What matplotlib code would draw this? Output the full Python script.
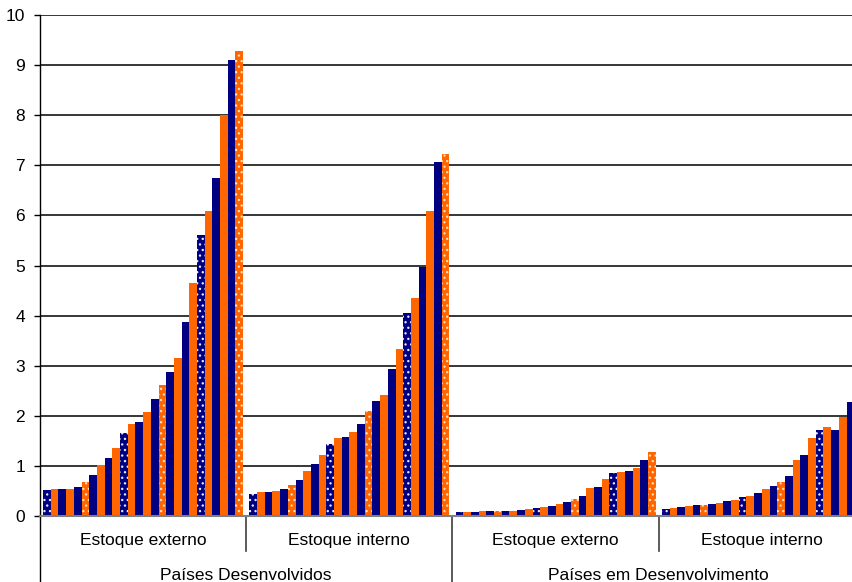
import matplotlib
matplotlib.use("Agg")
import matplotlib.pyplot as plt
from matplotlib.lines import Line2D

plt.rcParams["font.family"] = ["Liberation Sans", "DejaVu Sans"]
plt.rcParams["hatch.linewidth"] = 0.9

# Inner categories (stock type) and outer categories (country group)
inner_labels = ["Estoque externo", "Estoque interno", "Estoque externo", "Estoque interno"]
outer_labels = ["Países Desenvolvidos", "Países em Desenvolvimento"]

# One series of 26 consecutive observations per inner category
dev_externo = [0.51, 0.53, 0.53, 0.53, 0.57, 0.67, 0.81, 1.01, 1.15, 1.35, 1.65, 1.84, 1.88,
               2.07, 2.33, 2.61, 2.88, 3.15, 3.88, 4.65, 5.60, 6.08, 6.74, 8.00, 9.10, 9.28]
dev_interno = [0.43, 0.47, 0.47, 0.49, 0.53, 0.61, 0.71, 0.89, 1.03, 1.21, 1.43, 1.55, 1.57,
               1.67, 1.83, 2.09, 2.29, 2.41, 2.93, 3.33, 4.05, 4.35, 4.97, 6.09, 7.07, 7.23]
emd_externo = [0.07, 0.07, 0.07, 0.09, 0.09, 0.09, 0.09, 0.09, 0.11, 0.13, 0.15, 0.17, 0.19,
               0.23, 0.27, 0.33, 0.39, 0.55, 0.57, 0.73, 0.85, 0.87, 0.89, 0.95, 1.11, 1.27]
emd_interno = [0.13, 0.15, 0.17, 0.19, 0.21, 0.21, 0.23, 0.25, 0.29, 0.31, 0.37, 0.39, 0.45,
               0.53, 0.59, 0.67, 0.79, 1.11, 1.21, 1.55, 1.71, 1.77, 1.71, 1.97, 2.27, 2.40]
series = [dev_externo, dev_interno, emd_externo, emd_interno]

y_ticks = list(range(0, 11))

NAVY = "#000080"
ORANGE = "#FF6600"
HIGHLIGHT_STEP = 5  # every fifth observation drawn with a dotted fill

W, H, DPI = 853, 582, 100
fig = plt.figure(figsize=(W / DPI, H / DPI), dpi=DPI)
x0, x1 = 40, 865
y_bot, y_top = 516, 15
ax = fig.add_axes([x0 / W, (H - y_bot) / H, (x1 - x0) / W, (y_bot - y_top) / H])

n_cat = len(series)
margin = 0.015
for g, vals in enumerate(series):
    n = len(vals)
    bw = (1 - 2 * margin) / n
    for i, v in enumerate(vals):
        color = NAVY if i % 2 == 0 else ORANGE
        x = g + margin + (i + 0.5) * bw
        if i % HIGHLIGHT_STEP == 0:
            dot = "#E8E8FF" if color == NAVY else "#FFE0C0"
            ax.bar(x, v, width=bw, color=color, edgecolor=dot, linewidth=0,
                   hatch="...", zorder=3)
        else:
            ax.bar(x, v, width=bw, color=color, linewidth=0, zorder=3)

ax.set_xlim(0, n_cat)
ax.set_ylim(0, 10)
ax.set_yticks(y_ticks)
ax.set_yticklabels([str(t) for t in y_ticks], fontsize=12.5)
ax.tick_params(axis="y", length=4.3, width=1, pad=6.5, color="black")
ax.set_xticks([])

for t in y_ticks[1:]:
    ax.axhline(t, color="black", lw=1.1, zorder=1)

for s in ["top", "right"]:
    ax.spines[s].set_visible(False)
ax.spines["left"].set_color("black")
ax.spines["left"].set_linewidth(1.0)
ax.spines["bottom"].set_color("#808080")
ax.spines["bottom"].set_linewidth(1.5)
ax.spines["bottom"].set_zorder(4)

# Multi-level category axis drawn below the plot area
trans = ax.get_xaxis_transform()
ax.add_line(Line2D([0, 0], [0, -0.2], transform=trans, color="black", lw=1.0, clip_on=False))
for b in [1, 3]:
    ax.add_line(Line2D([b, b], [0, -35 / 501], transform=trans, color="#404040", lw=1.2,
                       clip_on=False))
ax.add_line(Line2D([2, 2], [0, -0.2], transform=trans, color="#404040", lw=1.2, clip_on=False))

for g, lab in enumerate(inner_labels):
    ax.annotate(lab, xy=(g + 0.5, 0), xycoords=trans, xytext=(0, -25),
                textcoords="offset pixels", ha="center", va="center", fontsize=12.5)
for k, lab in enumerate(outer_labels):
    ax.annotate(lab, xy=(2 * k + 1, 0), xycoords=trans, xytext=(0, -60),
                textcoords="offset pixels", ha="center", va="center", fontsize=12.5)

fig.savefig("out.png", dpi=DPI)
